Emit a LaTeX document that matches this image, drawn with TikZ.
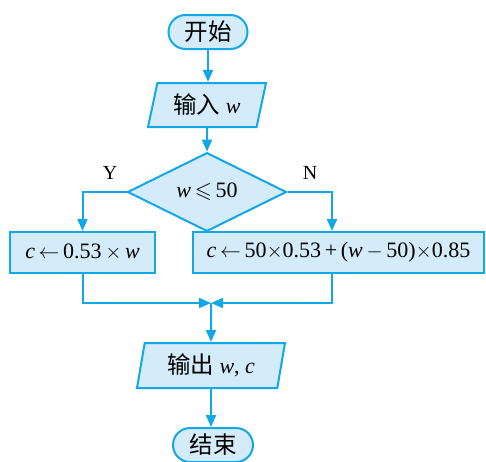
\documentclass[tikz,border=0pt]{standalone}
\usepackage{amssymb}
\usepackage{fontspec}
\setmainfont{Liberation Serif}
\newfontfamily\cjkfont{Noto Sans CJK SC}
\newcommand{\cjktext}[1]{{\fontsize{23.5}{28}\cjkfont #1}}
\usetikzlibrary{shapes.geometric,shapes.misc,arrows.meta}
\definecolor{lineblue}{RGB}{18,168,232}
\definecolor{fillblue}{RGB}{212,236,250}
\begin{document}
\begin{tikzpicture}[x=1pt,y=1pt,
  every node/.style={font=\fontsize{22}{26}\selectfont, inner sep=0pt},
  shapebase/.style={draw=lineblue, fill=fillblue, line width=2pt},
  terminal/.style={shapebase, rounded rectangle, minimum width=79pt, minimum height=34pt},
  iobox/.style={shapebase, trapezium, trapezium stretches body, minimum height=44pt},
  procbox/.style={shapebase, rectangle, minimum height=41pt},
  decision/.style={shapebase, diamond, minimum width=159pt, minimum height=53pt},
  conn/.style={draw=lineblue, line width=2pt, -{Triangle[length=12pt,width=10pt]}},
  branchlabel/.style={font=\fontsize{20}{24}\selectfont}]
\useasboundingbox (0,0) rectangle (486,-461);
\node[terminal] (start) at (208,-32) {\cjktext{开始}};
\node[iobox, trapezium left angle=66.6, trapezium right angle=113.4, minimum width=118pt] (input) at (207,-105) {\cjktext{输入}\ \textit{w}};
\node[decision] (dia) at (207,-192) {\textit{w}\,$\leqslant$\,50};
\node[procbox, minimum width=145pt] (left) at (82.5,-252.5) {\textit{c}\,$\leftarrow$\,0.53\,$\times$\,\textit{w}};
\node[procbox, minimum width=291pt] (right) at (338.5,-252.5) {\textit{c}\,$\leftarrow$\,50$\times$0.53\,+\,(\textit{w}\,$-$\,50)$\times$0.85};
\node[iobox, trapezium left angle=71.6, trapezium right angle=108.4, minimum width=148pt, minimum height=45pt] (output) at (211,-365.5) {\cjktext{输出}\ \textit{w}, \textit{c}};
\node[terminal, minimum width=80pt] (end) at (213,-445) {\cjktext{结束}};
\node[branchlabel] (ylab) at (110,-173) {Y};
\node[branchlabel] (nlab) at (310,-173) {N};
\coordinate (m) at (211,-303);
\draw[conn] (start.south) -- (start.south |- input.north);
\draw[conn] (input.south) -- (dia.north);
\draw[conn] (dia.west) -| (left.north);
\draw[conn] (dia.east) -| ([xshift=-6.5pt]right.north);
\draw[conn] (left.south) |- (m);
\draw[conn] ([xshift=-6.5pt]right.south) |- (m);
\draw[conn] (m) -- (output.north);
\draw[conn] (output.south) -- (output.south |- end.north);
\end{tikzpicture}
\end{document}
